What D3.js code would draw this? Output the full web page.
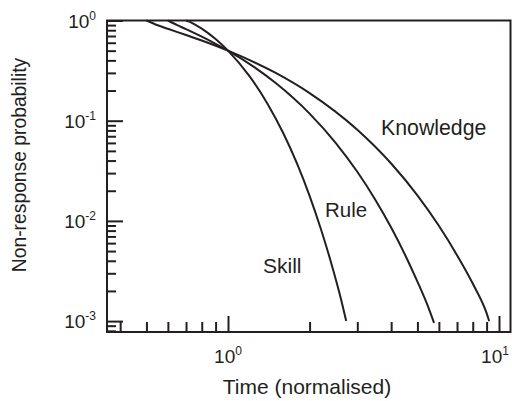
<!DOCTYPE html>
<html><head><meta charset="utf-8">
<script src="https://cdn.jsdelivr.net/npm/d3@7"></script>
<style>
body{margin:0;background:#fff}
svg{display:block}
text{font-family:"Liberation Sans",Arial,Helvetica,sans-serif;fill:#231f20}
</style>
</head><body>
<svg id="c" width="512" height="401"></svg>
<script>
// ---- data ----
const seriesNames = ["Skill", "Rule", "Knowledge"];
const skillT = [0.7, 0.72, 0.75, 0.8, 0.9, 1.0, 1.2, 1.4, 1.6, 1.8, 2.0, 2.2, 2.4, 2.6, 2.73];
const skillP = [1, 0.9735, 0.9224, 0.8306, 0.6529, 0.5, 0.278, 0.1471, 0.0749, 0.037, 0.0178, 0.00836, 0.00385, 0.00174, 0.001];
const ruleT = [0.6, 0.65, 0.7, 0.8, 0.9, 1.0, 1.25, 1.5, 2.0, 2.5, 3.0, 3.5, 4.0, 4.5, 5.0, 5.5, 5.76];
const ruleP = [1, 0.8988, 0.8195, 0.6898, 0.5856, 0.5, 0.342, 0.2374, 0.1176, 0.0598, 0.0309, 0.0162, 0.00859, 0.0046, 0.00248, 0.00135, 0.00096];
const knowT = [0.5, 0.55, 0.6, 0.7, 0.8, 1.0, 1.5, 2.0, 3.0, 4.0, 5.0, 6.0, 7.0, 8.0, 9.0, 9.2];
const knowP = [1, 0.896, 0.826, 0.7169, 0.6311, 0.5, 0.2993, 0.1885, 0.0812, 0.0374, 0.018, 0.00893, 0.00455, 0.00237, 0.0012, 0.001];
const xMajor = [1, 10];
const xMajorExp = ["0", "1"];
const xMinor = [0.4, 0.5, 0.6, 0.7, 0.8, 0.9, 2, 3, 4, 5, 6, 7, 8, 9];
const yMajor = [1, 0.1, 0.01, 0.001];
const yMajorExp = ["0", "-1", "-2", "-3"];
const yMinor = [0.0008, 0.0009, 0.002, 0.003, 0.004, 0.005, 0.006, 0.007, 0.008, 0.009,
                0.02, 0.03, 0.04, 0.05, 0.06, 0.07, 0.08, 0.09,
                0.2, 0.3, 0.4, 0.5, 0.6, 0.7, 0.8, 0.9];
const xTitle = "Time (normalised)";
const yTitle = "Non-response probability";

// ---- layout ----
const L = 107, R = 510.5, T = 20.5, B = 332;
const xOne = 228, xDec = 271;   // pixel of t=1, pixels per decade
const yDec = 100.2;
const ink = "#231f20";

const x = d3.scaleLog()
  .domain([Math.pow(10, (L - xOne) / xDec), Math.pow(10, (R - xOne) / xDec)])
  .range([L, R]);
const y = d3.scaleLog()
  .domain([Math.pow(10, -(B - T) / yDec), 1])
  .range([B, T]);

const svg = d3.select("#c");

// ticks
function styleAxis(g){
  g.select(".domain").remove();
  g.selectAll(".tick line").attr("stroke", ink).attr("stroke-width", 2);
  g.selectAll(".tick text").remove();
}
svg.append("g").attr("transform", `translate(0,${B})`)
  .call(d3.axisBottom(x).tickValues(xMinor).tickSize(-10).tickFormat("")).call(styleAxis);
svg.append("g").attr("transform", `translate(0,${B})`)
  .call(d3.axisBottom(x).tickValues(xMajor).tickSize(-16).tickFormat("")).call(styleAxis);
svg.append("g").attr("transform", `translate(${L},0)`)
  .call(d3.axisLeft(y).tickValues(yMinor).tickSize(-9).tickFormat("")).call(styleAxis);
svg.append("g").attr("transform", `translate(${L},0)`)
  .call(d3.axisLeft(y).tickValues(yMajor).tickSize(-16).tickFormat("")).call(styleAxis);

// frame
svg.append("rect").attr("x", L).attr("y", T).attr("width", R - L).attr("height", B - T)
  .attr("fill", "none").attr("stroke", ink).attr("stroke-width", 2);

// tick labels
xMajor.forEach((v, i) => {
  const t = svg.append("text").attr("x", x(v) + (i === 1 ? -4 : 0)).attr("y", 363)
    .attr("text-anchor", "middle").attr("font-size", 19).text("10");
  t.append("tspan").attr("dy", -8).attr("font-size", 12).text(xMajorExp[i]);
});
yMajor.forEach((v, i) => {
  const t = svg.append("text").attr("x", 96).attr("y", y(v) + 7)
    .attr("text-anchor", "end").attr("font-size", 19).text("10");
  t.append("tspan").attr("dy", -8).attr("font-size", 12).text(yMajorExp[i]);
});

// titles
svg.append("text").attr("x", 307).attr("y", 394).attr("text-anchor", "middle")
  .attr("font-size", 21).text(xTitle);
svg.append("text").attr("transform", `translate(26,165) rotate(-90)`)
  .attr("text-anchor", "middle").attr("font-size", 19.3).text(yTitle);

// curves
const line = d3.line().x(d => x(d[0])).y(d => y(d[1])).curve(d3.curveMonotoneX);
const curves = [
  d3.zip(skillT, skillP),
  d3.zip(ruleT, ruleP),
  d3.zip(knowT, knowP)
];
svg.append("g").selectAll("path").data(curves).join("path")
  .attr("d", line).attr("fill", "none").attr("stroke", ink).attr("stroke-width", 2);

// curve labels
const labelPos = [[263, 273], [325, 217], [381, 135]];
const labelSize = [21, 20.5, 21.3];
seriesNames.forEach((n, i) => {
  svg.append("text").attr("x", labelPos[i][0]).attr("y", labelPos[i][1])
    .attr("font-size", labelSize[i]).text(n);
});
</script>
</body></html>
